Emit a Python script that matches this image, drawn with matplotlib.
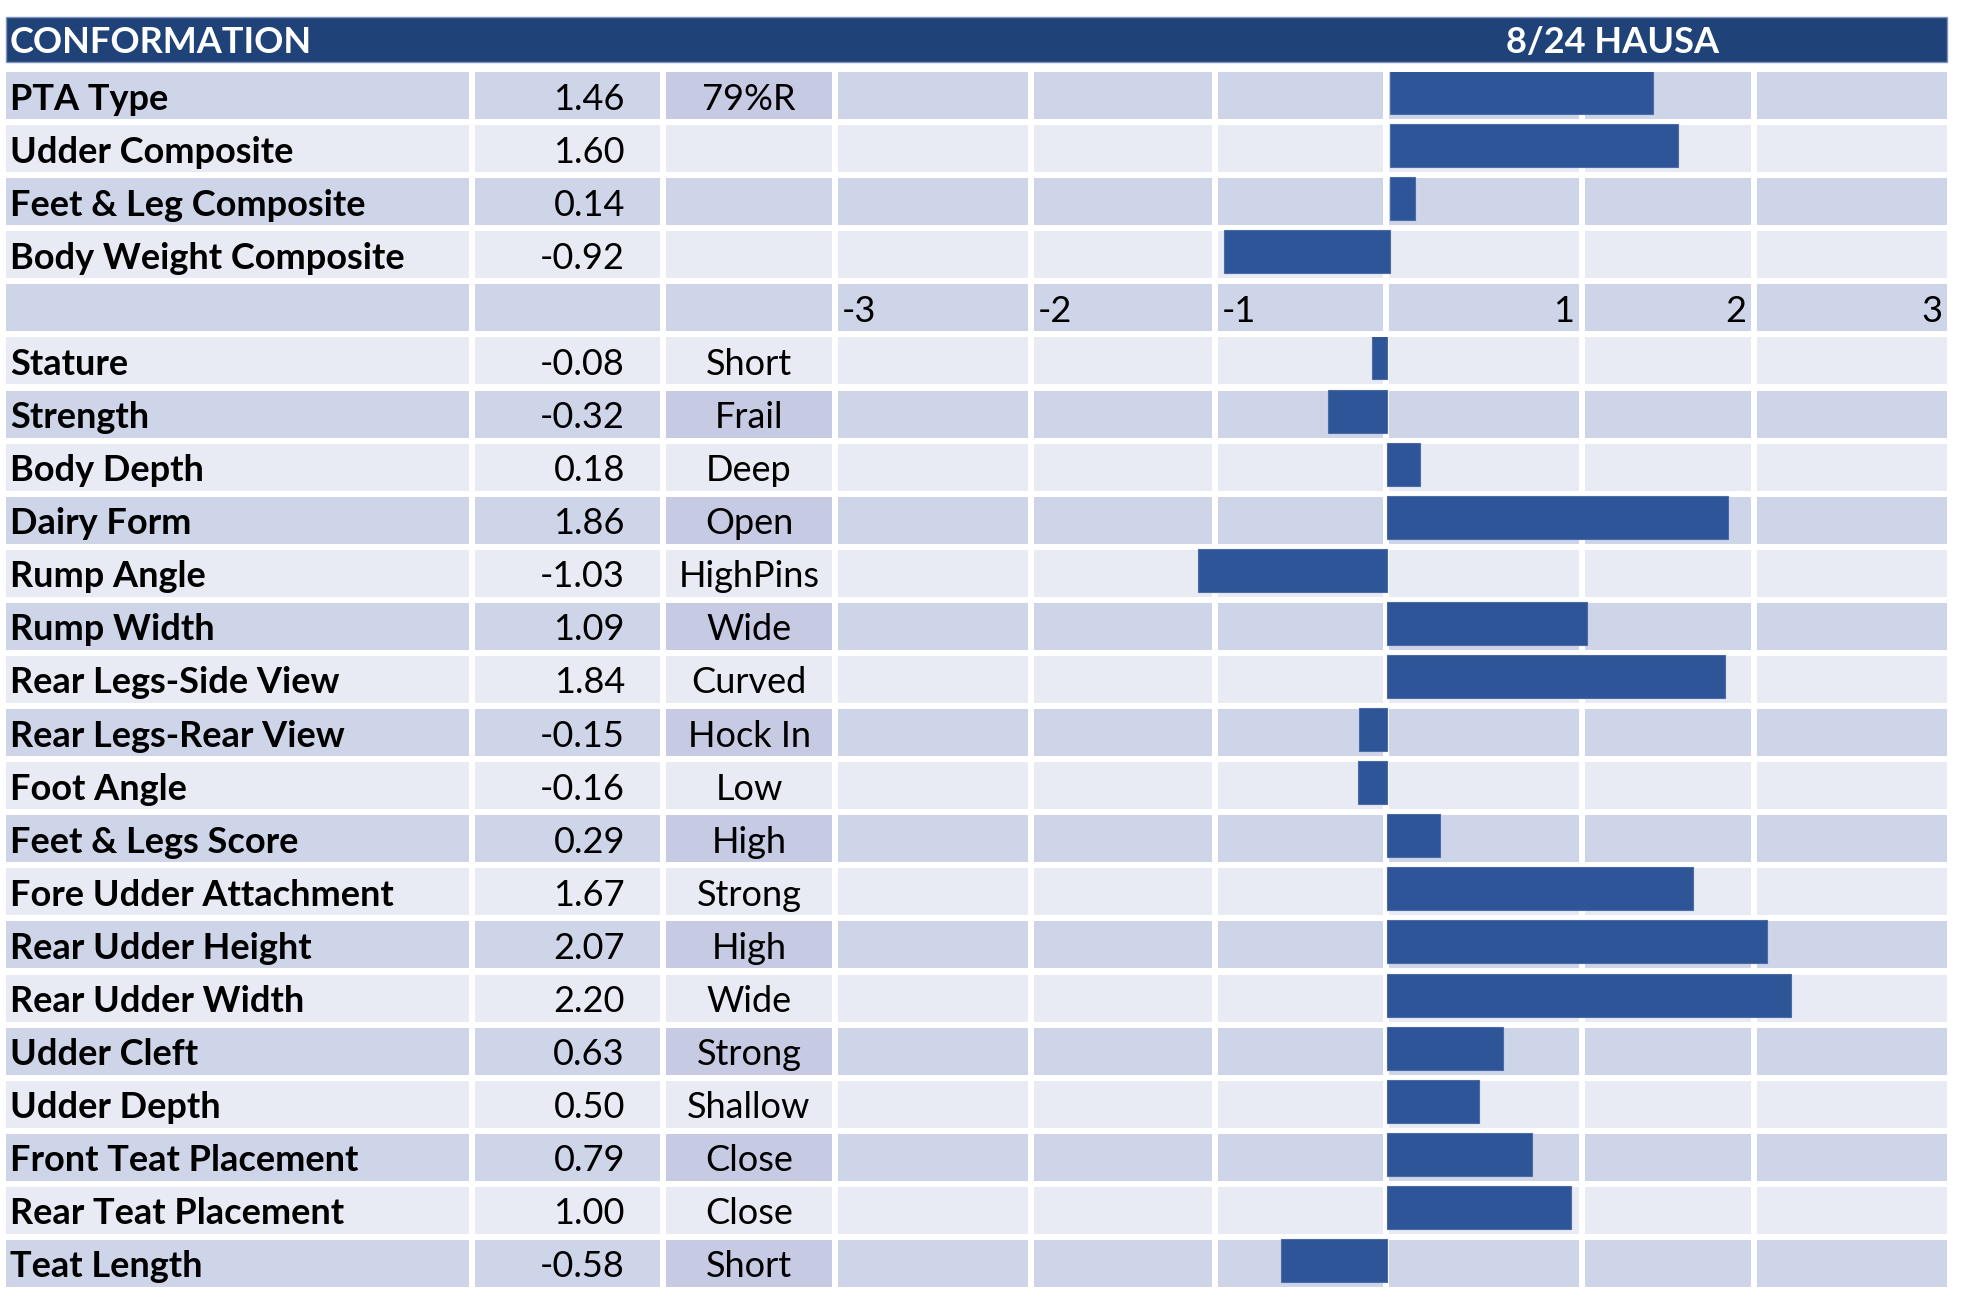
import numpy as np
import matplotlib
matplotlib.use("Agg")
import matplotlib.pyplot as plt
from matplotlib.patches import Rectangle

# --- data ---
top_traits = ["PTA Type", "Udder Composite", "Feet & Leg Composite", "Body Weight Composite"]
top_values = [1.46, 1.60, 0.14, -0.92]
top_notes = ["79%R", "", "", ""]

lin_traits = ["Stature", "Strength", "Body Depth", "Dairy Form", "Rump Angle", "Rump Width",
              "Rear Legs-Side View", "Rear Legs-Rear View", "Foot Angle", "Feet & Legs Score",
              "Fore Udder Attachment", "Rear Udder Height", "Rear Udder Width", "Udder Cleft",
              "Udder Depth", "Front Teat Placement", "Rear Teat Placement", "Teat Length"]
lin_values = [-0.08, -0.32, 0.18, 1.86, -1.03, 1.09, 1.84, -0.15, -0.16, 0.29,
              1.67, 2.07, 2.20, 0.63, 0.50, 0.79, 1.00, -0.58]
lin_notes = ["Short", "Frail", "Deep", "Open", "HighPins", "Wide", "Curved", "Hock In", "Low",
             "High", "Strong", "High", "Wide", "Strong", "Shallow", "Close", "Close", "Short"]

axis_ticks = [-3, -2, -1, 1, 2, 3]
title_left = "CONFORMATION"
title_right = "8/24 HAUSA"

# --- layout (pixels) ---
W, H = 1971, 1310
ROW0, PITCH, ROWH = 72, 53.09, 47
cols = [(6, 469), (475, 660), (666, 832), (838, 1028), (1034, 1212),
        (1218, 1383), (1389, 1579), (1585, 1751), (1757, 1947)]
DARK, LIGHT, NOTE_DARK = "#CFD5E9", "#E8EAF4", "#C6CAE3"
NAVY, BAR = "#1F4279", "#2E5597"
FONT = ["Lato", "DejaVu Sans"]
FS = 26
CAP = 14  # baseline offset below row centre, px

fig = plt.figure(figsize=(W / 100, H / 100), dpi=100)
tab = fig.add_axes([0, 0, 1, 1])
tab.set_xlim(0, W)
tab.set_ylim(H, 0)
tab.axis("off")

# header band
tab.add_patch(Rectangle((cols[0][0], 17), cols[-1][1] - cols[0][0], 45,
                        facecolor=NAVY, edgecolor="#8093BB", lw=1))
tab.text(10, 40 + 13, title_left, color="white", fontsize=FS, fontweight="bold",
         family=FONT, va="baseline", ha="left")
tab.text(1613, 40 + 13, title_right, color="white", fontsize=FS, fontweight="bold",
         family=FONT, va="baseline", ha="center")

rows = ([(t, v, n) for t, v, n in zip(top_traits, top_values, top_notes)]
        + [None]
        + [(t, v, n) for t, v, n in zip(lin_traits, lin_values, lin_notes)])

for i, r in enumerate(rows):
    top = ROW0 + i * PITCH
    base = DARK if i % 2 == 0 else LIGHT
    for c, (x0, x1) in enumerate(cols):
        fc = base
        if c == 2 and r is not None and i % 2 == 0 and r[2]:
            fc = NOTE_DARK
        tab.add_patch(Rectangle((x0, top), x1 - x0, ROWH, facecolor=fc, edgecolor="none"))
    yb = top + ROWH / 2 + CAP
    if r is None:
        # axis label row
        for k, t in enumerate(axis_ticks):
            x0, x1 = cols[3 + k]
            if t < 0:
                tab.text(x0 + 4, yb, str(t), fontsize=FS, family=FONT, ha="left", va="baseline")
            else:
                tab.text(x1 - 5, yb, str(t), fontsize=FS, family=FONT, ha="right", va="baseline")
        continue
    name, val, note = r
    tab.text(10, yb, name, fontsize=FS, fontweight="bold", family=FONT, ha="left", va="baseline")
    tab.text(625, yb, f"{val:.2f}", fontsize=FS, family=FONT, ha="right", va="baseline")
    if note:
        tab.text((cols[2][0] + cols[2][1]) / 2, yb, note, fontsize=FS, family=FONT,
                 ha="center", va="baseline")


def bar_axes(first_row, n, zero_px, px_per_unit, values):
    y_top = ROW0 + first_row * PITCH
    y_bot = y_top + n * PITCH
    x0, x1 = cols[3][0], cols[-1][1]
    ax = fig.add_axes([x0 / W, 1 - y_bot / H, (x1 - x0) / W, (y_bot - y_top) / H])
    ax.set_xlim((x0 - zero_px) / px_per_unit, (x1 - zero_px) / px_per_unit)
    ax.set_ylim(n, 0)
    pos = np.arange(n) + 21.5 / PITCH - 1 / PITCH
    ax.barh(pos, values, height=43 / PITCH, color=BAR, edgecolor="#4D6BA6", linewidth=0.8)
    ax.axis("off")
    ax.patch.set_alpha(0)
    return ax


bar_axes(0, len(top_values), 1390, 180.0, top_values)
bar_axes(5, len(lin_values), 1387, 183.5, lin_values)

fig.savefig("out.png", dpi=100)
